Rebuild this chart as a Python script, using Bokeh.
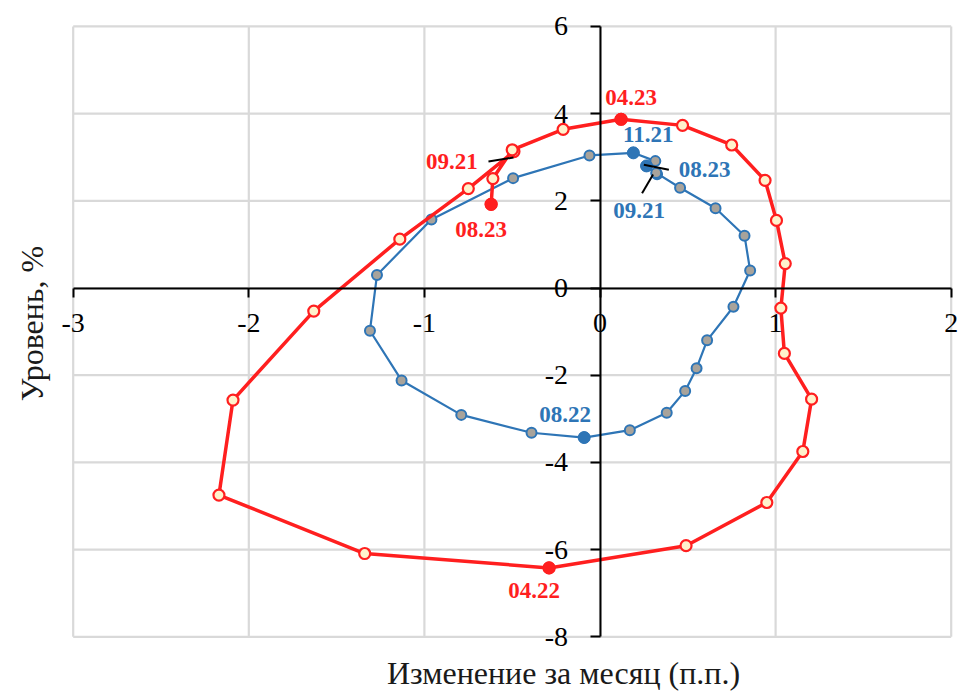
import math
from bokeh.plotting import figure
from bokeh.models import Range1d, FixedTicker, Label, CustomJSTickFormatter
from bokeh.embed import file_html
from bokeh.resources import INLINE

# ---------------- data ----------------
months = ["09.21", "10.21", "11.21", "12.21", "01.22", "02.22", "03.22", "04.22",
          "05.22", "06.22", "07.22", "08.22", "09.22", "10.22", "11.22", "12.22",
          "01.23", "02.23", "03.23", "04.23", "05.23", "06.23", "07.23", "08.23"]

red_x = [-0.49, -0.75, -1.14, -1.63, -2.09, -2.17, -1.34, -0.29,
         0.49, 0.95, 1.155, 1.205, 1.05, 1.03, 1.055, 1.005,
         0.94, 0.75, 0.47, 0.12, -0.21, -0.50, -0.61, -0.62]
red_y = [3.13, 2.28, 1.12, -0.53, -2.57, -4.75, -6.09, -6.42,
         -5.91, -4.92, -3.75, -2.55, -1.50, -0.46, 0.56, 1.55,
         2.47, 3.28, 3.73, 3.87, 3.64, 3.17, 2.51, 1.92]

blue_x = [0.325, 0.315, 0.19, -0.06, -0.495, -0.96, -1.27, -1.31,
          -1.13, -0.79, -0.39, -0.09, 0.17, 0.38, 0.485, 0.55,
          0.61, 0.76, 0.855, 0.823, 0.658, 0.456, 0.32, 0.265]
blue_y = [2.61, 2.91, 3.10, 3.04, 2.52, 1.57, 0.30, -0.98,
          -2.12, -2.91, -3.32, -3.43, -3.26, -2.86, -2.36, -1.84,
          -1.20, -0.43, 0.40, 1.20, 1.83, 2.30, 2.64, 2.80]

red_highlight = ["04.22", "04.23", "08.23"]
blue_highlight = ["11.21", "08.22", "08.23"]

red_labels = ["09.21", "04.22", "04.23", "08.23"]
blue_labels = ["09.21", "11.21", "08.22", "08.23"]

x_ticks = [-3, -2, -1, 0, 1, 2]
y_ticks = [-8, -6, -4, -2, 0, 2, 4, 6]

x_title = "Изменение за месяц (п.п.)"
y_title = "Уровень, %"

# ---------------- layout / styles ----------------
W, H = 960, 693
# pixel positions of the grid box corners on the canvas
GX0, GX1 = 72.7, 950.7      # x = -3 .. 2
GY0, GY1 = 25.9, 636.3      # y = 6 .. -8 (from top)
px_x = (GX1 - GX0) / (x_ticks[-1] - x_ticks[0])
px_y = (GY1 - GY0) / (y_ticks[-1] - y_ticks[0])
x_start = x_ticks[0] - GX0 / px_x
x_end = x_start + W / px_x
y_end = y_ticks[-1] + GY0 / px_y
y_start = y_end - H / px_y


def sx2d(px):
    return x_start + px / px_x


def sy2d(py):
    return y_end - py / px_y


RED = "#FF1F1F"
BLUE = "#2E75B6"
SERIF = "Liberation Serif"

red_label_off = {"09.21": (-62, -10), "04.22": (-15, -23), "04.23": (10, 22), "08.23": (-10, -25)}
blue_label_off = {"09.21": (-18, -36), "11.21": (15, 18), "08.22": (-19, 23), "08.23": (58, -4)}
leaders = [("red", "09.21", -25.5, -10, -0.5, -6),
           ("blue", "08.23", -2.7, 1.1, 22.3, -3.9),
           ("blue", "09.21", -15, -19, -4, -0.3)]

p = figure(width=W, height=H, x_range=Range1d(x_start, x_end), y_range=Range1d(y_start, y_end),
           output_backend="svg", toolbar_location=None,
           min_border_left=0, min_border_right=0, min_border_top=0, min_border_bottom=0,
           background_fill_color="white", border_fill_color="white")
p.outline_line_color = None
p.grid.visible = False

# grid box
p.segment(x_ticks, [y_ticks[0]] * len(x_ticks), x_ticks, [y_ticks[-1]] * len(x_ticks),
          line_color="#D9D9D9", line_width=2.2)
p.segment([x_ticks[0]] * len(y_ticks), y_ticks, [x_ticks[-1]] * len(y_ticks), y_ticks,
          line_color="#D9D9D9", line_width=2.2)

fmt = CustomJSTickFormatter(code="return tick.toFixed(0);")
for ax, ticks in ((p.xaxis, x_ticks), (p.yaxis, y_ticks)):
    ax.ticker = FixedTicker(ticks=ticks)
    ax.formatter = fmt
    ax.fixed_location = 0
    ax.bounds = (ticks[0], ticks[-1])
    ax.axis_line_color = "black"
    ax.axis_line_width = 2
    ax.major_tick_line_color = "black"
    ax.major_tick_line_width = 2
    ax.major_tick_in = 0
    ax.minor_tick_line_color = None
    ax.major_label_text_font = SERIF
    ax.major_label_text_font_size = "28px"
    ax.major_label_text_color = "black"
p.xaxis.major_tick_out = 9
p.yaxis.major_tick_out = 10
p.xaxis.major_label_standoff = 17
p.yaxis.major_label_standoff = 22

# series
p.line(blue_x, blue_y, line_color=BLUE, line_width=2.2)
p.scatter(blue_x, blue_y, size=10, fill_color="#A8A39B", line_color=BLUE, line_width=2)
p.line(red_x, red_y, line_color=RED, line_width=3.5)
p.scatter(red_x, red_y, size=11, fill_color="#FFF2CC", line_color=RED, line_width=2.2)

bi = [months.index(m) for m in blue_highlight]
p.scatter([blue_x[i] for i in bi], [blue_y[i] for i in bi], size=12,
          fill_color=BLUE, line_color=BLUE)
ri = [months.index(m) for m in red_highlight]
p.scatter([red_x[i] for i in ri], [red_y[i] for i in ri], size=12,
          fill_color=RED, line_color=RED)

# leader lines
for series, m, dx0, dy0, dx1, dy1 in leaders:
    i = months.index(m)
    bx, by = (red_x[i], red_y[i]) if series == "red" else (blue_x[i], blue_y[i])
    p.segment(bx + dx0 / px_x, by + dy0 / px_y, bx + dx1 / px_x, by + dy1 / px_y,
              line_color="black", line_width=2)

# point labels
for labels, offs, xs, ys, col in ((red_labels, red_label_off, red_x, red_y, RED),
                                  (blue_labels, blue_label_off, blue_x, blue_y, BLUE)):
    for m in labels:
        i = months.index(m)
        dx, dy = offs[m]
        p.add_layout(Label(x=xs[i], y=ys[i], x_offset=dx, y_offset=dy, text=m,
                           text_font=SERIF, text_font_style="bold", text_font_size="23px",
                           text_color=col, text_align="center", text_baseline="middle"))

# axis titles
p.add_layout(Label(x=sx2d(563), y=sy2d(672), text=x_title, text_font=SERIF,
                   text_font_size="32px", text_color="#1A1A1A",
                   text_align="center", text_baseline="middle"))
p.add_layout(Label(x=sx2d(31), y=sy2d(323), text=y_title, text_font=SERIF,
                   text_font_size="32px", text_color="#1A1A1A", angle=math.pi / 2,
                   text_align="center", text_baseline="middle"))

open("out.html", "w").write(file_html(p, INLINE))
